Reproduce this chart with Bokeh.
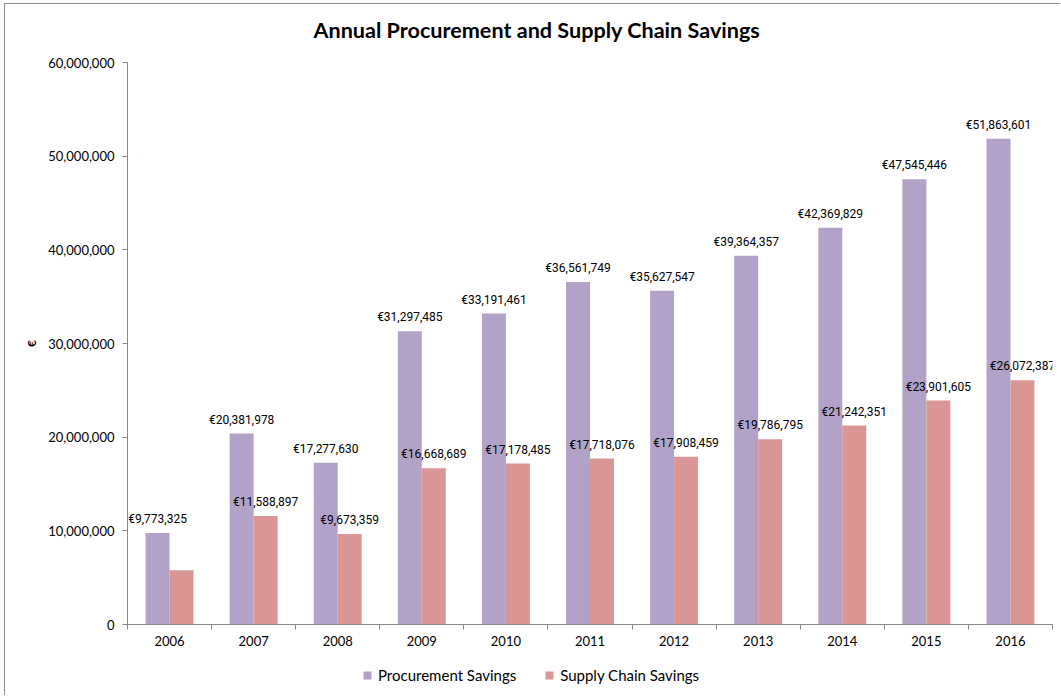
from bokeh.plotting import figure
from bokeh.layouts import column
from bokeh.models import (ColumnDataSource, FixedTicker, Range1d, Legend, LegendItem,
                          NumeralTickFormatter, Label)
from bokeh.core.properties import value
from bokeh.embed import file_html
from bokeh.resources import INLINE

title_text = "Annual Procurement and Supply Chain Savings"
years = ["2006", "2007", "2008", "2009", "2010", "2011", "2012", "2013", "2014", "2015", "2016"]
procurement = [9773325, 20381978, 17277630, 31297485, 33191461, 36561749, 35627547,
               39364357, 42369829, 47545446, 51863601]
supply_chain = [5800000, 11588897, 9673359, 16668689, 17178485, 17718076, 17908459,
                19786795, 21242351, 23901605, 26072387]
supply_labels = ["", "€11,588,897", "€9,673,359", "€16,668,689", "€17,178,485", "€17,718,076",
                 "€17,908,459", "€19,786,795", "€21,242,351", "€23,901,605", "€26,072,387"]
proc_labels = ["€{:,}".format(v) for v in procurement]
series_names = ["Procurement Savings", "Supply Chain Savings"]
series_colors = ["#B3A2C7", "#D99694"]

n = len(years)
bw = 0.285
centers = [i + 0.5 for i in range(n)]

src_p = ColumnDataSource(dict(x=[c - bw / 2 for c in centers], top=procurement, lab=proc_labels))
src_s = ColumnDataSource(dict(x=[c + bw / 2 for c in centers], top=supply_chain, lab=supply_labels))

W = 1055


def strip(h):
    f = figure(width=W, height=h, output_backend="svg", toolbar_location=None,
               x_range=Range1d(0, 1), y_range=Range1d(0, 1), x_axis_type=None, y_axis_type=None,
               min_border=0)
    f.outline_line_color = None
    f.background_fill_color = None
    f.border_fill_color = None
    return f


# title strip
tf = strip(40)
tf.add_layout(Label(x=186, y=15, x_units="screen", y_units="screen", text=title_text,
                    text_font="Lato", text_font_size="21.6px", text_font_style="bold",
                    text_color="#000000", text_baseline="middle", text_align="left"))

p = figure(width=W, height=612, output_backend="svg", toolbar_location=None,
           x_range=Range1d(0, n), y_range=Range1d(0, 60000000),
           min_border_left=122, min_border_right=8, min_border_top=18, min_border_bottom=32)
p.outline_line_color = None
p.grid.visible = False
p.background_fill_color = "white"

p.vbar(x="x", top="top", width=bw, source=src_p, fill_color=series_colors[0], line_color=None)
p.vbar(x="x", top="top", width=bw, source=src_s, fill_color=series_colors[1], line_color=None)

for src in (src_p, src_s):
    p.text(x="x", y="top", text="lab", source=src, text_align="center", text_baseline="bottom",
           y_offset=-7, text_font=value("Roboto"), text_font_size="12px",
           text_color="#000000")

# x axis
xa = p.xaxis[0]
xa.ticker = FixedTicker(ticks=centers, minor_ticks=list(range(n + 1)))
xa.major_label_overrides = {c: y for c, y in zip(centers, years)}
xa.major_tick_line_color = None
xa.minor_tick_out = 5
xa.minor_tick_in = 0
xa.minor_tick_line_color = "#868686"
xa.axis_line_color = "#868686"
xa.major_label_text_font = "Lato"
xa.major_label_text_font_size = "13px"
xa.major_label_text_color = "#000000"
xa.major_label_standoff = 5

ya = p.yaxis[0]
ya.ticker = FixedTicker(ticks=list(range(0, 60000001, 10000000)))
ya.formatter = NumeralTickFormatter(format="0,0")
ya.major_tick_out = 5
ya.major_tick_in = 0
ya.minor_tick_line_color = None
ya.major_tick_line_color = "#868686"
ya.axis_line_color = "#868686"
ya.major_label_text_font = "Lato"
ya.major_label_text_font_size = "13px"
ya.major_label_text_color = "#000000"
ya.major_label_standoff = 8
ya.axis_label = "€"
ya.axis_label_text_font = "Lato"
ya.axis_label_text_font_size = "12px"
ya.axis_label_text_font_style = "bold"
ya.axis_label_text_color = "#000000"
ya.axis_label_standoff = 6

# legend strip below the chart
lf = strip(39)
items = []
for name, col in zip(series_names, series_colors):
    # zero-height bar: draws nothing, but gives the legend swatch its colour
    r = lf.vbar(x=[0.5], top=[0], bottom=[0], width=0.01, fill_color=col, line_color=None)
    items.append(LegendItem(label=name, renderers=[r]))
legend = Legend(items=items, location=(235, 10), orientation="horizontal",
                label_text_font="Lato", label_text_font_size="15px", label_text_color="#000000",
                glyph_width=10, glyph_height=10, spacing=28, padding=0, margin=0,
                label_height=20, label_standoff=6, border_line_color=None,
                background_fill_alpha=0)
lf.add_layout(legend, "center")

layout = column(tf, p, lf, spacing=0,
                styles={"border-left": "1px solid #8c8c8c", "border-top": "1px solid #8c8c8c",
                        "margin-left": "4px", "margin-top": "3px"})

open("out.html", "w").write(file_html(layout, INLINE))
